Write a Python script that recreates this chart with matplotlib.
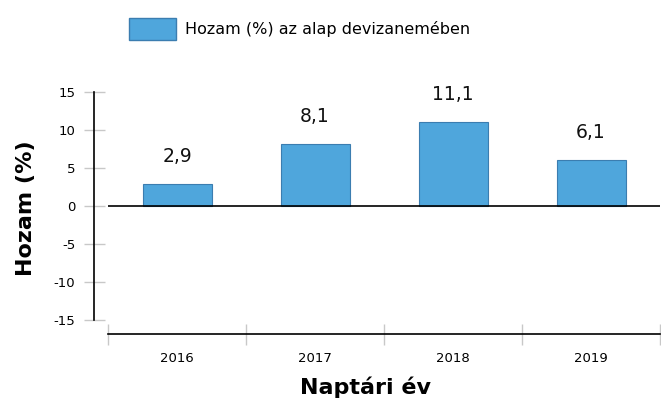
import matplotlib
matplotlib.use("Agg")
import matplotlib.pyplot as plt
from matplotlib.patches import Patch

years = ["2016", "2017", "2018", "2019"]
returns = [2.9, 8.1, 11.1, 6.1]
y_ticks = [15, 10, 5, 0, -5, -10, -15]
legend_label = "Hozam (%) az alap devizanemében"

BAR = "#4fa6dc"
EDGE = "#3b7db0"
GREY = "#c8c8c8"
PX = 0.72  # points per pixel at dpi 100

fig = plt.figure(figsize=(6.61, 4.03), dpi=100)
ax = fig.add_axes([108 / 661, 1 - 320 / 403, 552 / 661, 228 / 403])

x = list(range(len(years)))
ax.bar(x, returns, width=0.5, color=BAR, edgecolor=EDGE, linewidth=0.8, zorder=2)
ax.axhline(0, color="black", linewidth=1.2, zorder=3)

for xi, v in zip(x, returns):
    ax.text(xi, v + 2.9, f"{v:.1f}".replace(".", ","), ha="center", va="baseline",
            fontsize=13.5, color="#111111")

ax.set_xlim(-0.5, len(years) - 0.5)
ax.set_ylim(-15, 15)

for s in ("top", "right"):
    ax.spines[s].set_visible(False)
ax.spines["left"].set_position(("outward", 14 * PX))
ax.spines["bottom"].set_position(("outward", 14 * PX))
ax.spines["left"].set_linewidth(1.2)
ax.spines["bottom"].set_linewidth(1.2)

ax.set_yticks(y_ticks)
ax.set_yticklabels([str(t) for t in y_ticks], fontsize=9.5)
ax.tick_params(axis="y", direction="inout", length=21 * PX, width=1, color=GREY, pad=6)

ax.set_xticks(x)
ax.set_xticklabels(years, fontsize=9.5)
ax.tick_params(axis="x", which="major", length=0, pad=13)
ax.set_xticks([i - 0.5 for i in range(len(years) + 1)], minor=True)
ax.tick_params(axis="x", which="minor", direction="inout", length=21 * PX, width=1, color=GREY)

ax.set_ylabel("Hozam (%)", fontsize=16, fontweight="bold")
ax.yaxis.set_label_coords((26 - 108) / 552, 0.49)
ax.set_xlabel("Naptári év", fontsize=16, fontweight="bold")
ax.xaxis.set_label_coords((365 - 108) / 552, (320 - 387) / 228)
ax.xaxis.label.set_va("center")
ax.yaxis.label.set_va("center")

fig.legend(handles=[Patch(facecolor=BAR, edgecolor=EDGE, label=legend_label)],
           loc="center left", bbox_to_anchor=(124 / 661, 1 - 29 / 403),
           frameon=False, fontsize=11.5, handlelength=34 / 11.5,
           handleheight=20 / 11.5, handletextpad=0.55, borderaxespad=0, borderpad=0.3)

fig.savefig("out.png", dpi=100)
